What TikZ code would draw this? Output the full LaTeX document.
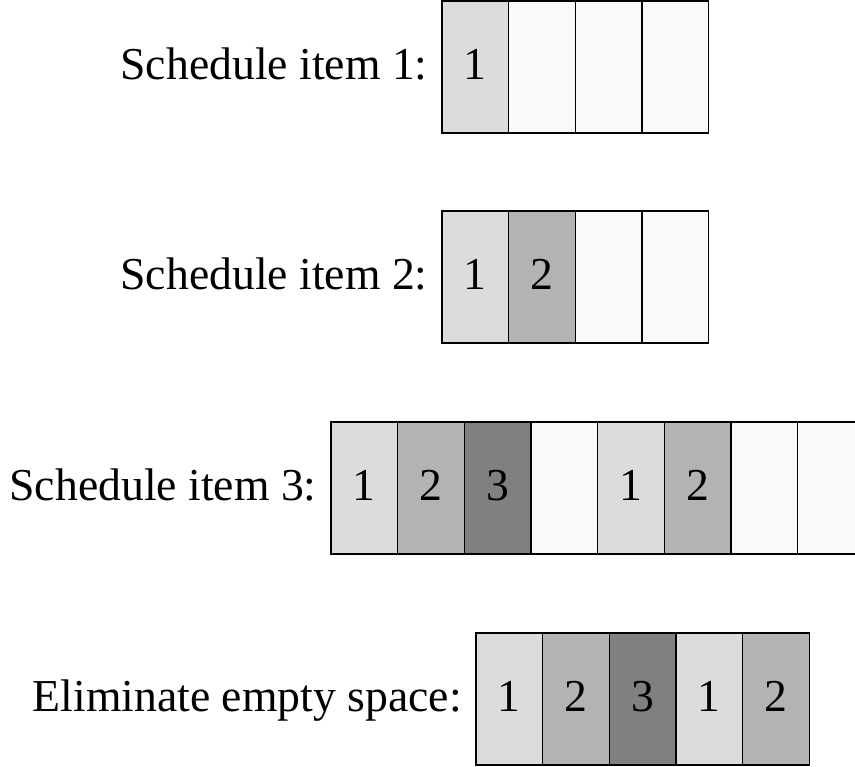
\documentclass[tikz,border=0pt]{standalone}
\usepackage{fontspec}
\setmainfont{Liberation Serif}
\usepackage{xcolor}
\usetikzlibrary{positioning}
\definecolor{fillA}{HTML}{DCDCDC}
\definecolor{fillB}{HTML}{B3B3B3}
\definecolor{fillC}{HTML}{808080}
\definecolor{fillE}{HTML}{F9F9F9}
\begin{document}
\begin{tikzpicture}[
cell/.style={draw,line width=0.8pt,minimum width=1.333cm,minimum height=2.64cm,inner sep=0pt,outer sep=0pt,text height=1.45em,text depth=0pt,font=\fontsize{26}{30}\selectfont},
tag/.style={inner sep=0pt,text height=1.45em,text depth=0pt,font=\fontsize{26}{30}\selectfont}]
\useasboundingbox(0,0.02)rectangle(17.1,-15.32);
\clip(0,0.02)rectangle(17.1,-15.32);
% row 1
\foreach \i/\c/\t in {1/fillA/1,2/fillE/,3/fillE/,4/fillE/}
\node[cell,fill=\c](r1c\i)at(8.84+\i*1.333-0.667,-1.32){\t};
\node[tag,left=0.28cm of r1c1](lab1){Schedule item 1:};
% row 2
\foreach \i/\c/\t in {1/fillA/1,2/fillB/2,3/fillE/,4/fillE/}
\node[cell,fill=\c](r2c\i)at(8.84+\i*1.333-0.667,-5.52){\t};
\node[tag,left=0.28cm of r2c1](lab2){Schedule item 2:};
% row 3
\foreach \i/\c/\t in {1/fillA/1,2/fillB/2,3/fillC/3,4/fillE/,5/fillA/1,6/fillB/2,7/fillE/,8/fillE/}
\node[cell,fill=\c](r3c\i)at(6.62+\i*1.333-0.667,-9.74){\t};
\node[tag,left=0.28cm of r3c1](lab3){Schedule item 3:};
% row 4
\foreach \i/\c/\t in {1/fillA/1,2/fillB/2,3/fillC/3,4/fillA/1,5/fillB/2}
\node[cell,fill=\c](r4c\i)at(9.52+\i*1.333-0.667,-13.96){\t};
\node[tag,left=0.28cm of r4c1](lab4){Eliminate empty space:};
\end{tikzpicture}
\end{document}
